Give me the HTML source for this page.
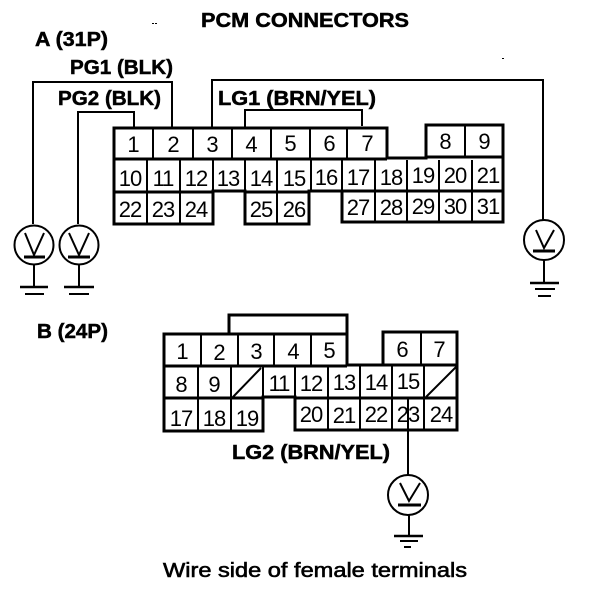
<!DOCTYPE html>
<html><head><meta charset="utf-8"><style>
html,body{margin:0;padding:0;background:#fff}
svg{display:block}
.n{font:22px "Liberation Sans",sans-serif;letter-spacing:-1px;text-anchor:middle;fill:#000}
.b{font:bold 20px "Liberation Sans",sans-serif;fill:#000;stroke:#000;stroke-width:.5}
</style></head><body>
<svg width="608" height="598" viewBox="0 0 608 598" xmlns="http://www.w3.org/2000/svg">
<text class="b" x="201" y="27" textLength="208" lengthAdjust="spacingAndGlyphs">PCM CONNECTORS</text>
<text class="b" x="35" y="46" textLength="73" lengthAdjust="spacingAndGlyphs">A (31P)</text>
<text class="b" x="70" y="74" textLength="103" lengthAdjust="spacingAndGlyphs">PG1 (BLK)</text>
<text class="b" x="58" y="105" textLength="103" lengthAdjust="spacingAndGlyphs">PG2 (BLK)</text>
<text class="b" x="218" y="105" textLength="158" lengthAdjust="spacingAndGlyphs">LG1 (BRN/YEL)</text>
<text class="b" x="37" y="338" textLength="71" lengthAdjust="spacingAndGlyphs">B (24P)</text>
<text class="b" x="232" y="459" textLength="158" lengthAdjust="spacingAndGlyphs">LG2 (BRN/YEL)</text>
<text class="b" x="163" y="577" textLength="304" lengthAdjust="spacingAndGlyphs" style="font-weight:normal;stroke-width:.6">Wire side of female terminals</text>

<g fill="#000"><rect x="152" y="23" width="2" height="1"/><rect x="155" y="23" width="2" height="1"/><rect x="502" y="58" width="2" height="1"/></g>

<g fill="none" stroke="#000" stroke-width="2">
<path d="M33 224V82H172V127"/>
<path d="M78 224V112H134V127"/>
<path d="M212 127V80H543V220"/>
<path d="M245 127V110H362V126"/>
</g>

<g fill="none" stroke="#000" stroke-width="3">
<path d="M114 128H387V158H426V125H503V222H342V191H309V224H245V191H213V224H114Z"/>
<path d="M114 159H387M426 157H503M114 192H213M245 192H309M342 191H503"/>
<path d="M229 334V315H347V365H383V332H457V430H295V397H263V431H164V334H347"/>
<path d="M164 366H347M347 365H457M164 398H263M295 398H457"/>
</g>
<g fill="none" stroke="#000" stroke-width="2">
<path d="M153 128V159M193 128V159M232 128V159M271 128V159M310 128V159M347 128V159M465 125V157"/>
<path d="M147 160V224M180 160V224M213 160V192M245 160V192M277 160V224M311 160V192M342 160V222M375 160V222M407 160V222M439 160V222M472 160V222"/>
<path d="M201 334V366M238 334V366M274 334V366M311 334V366M421 332V365"/>
<path d="M198 366V431M231 366V431M263 366V398M295 366V398M328 366V430M360 366V430M392 366V430M424 366V430"/>
<path d="M232 398L261 368M426 397L456 367"/>
</g>

<g>
<text class="n" x="133" y="152">1</text><text class="n" x="173" y="152">2</text><text class="n" x="212" y="152">3</text><text class="n" x="251" y="152">4</text><text class="n" x="290" y="151">5</text><text class="n" x="329" y="151">6</text><text class="n" x="367" y="151">7</text><text class="n" x="445" y="149">8</text><text class="n" x="484" y="149">9</text>
<text class="n" x="130" y="186">10</text><text class="n" x="163" y="186">11</text><text class="n" x="196" y="186">12</text><text class="n" x="228" y="186">13</text><text class="n" x="261" y="186">14</text><text class="n" x="294" y="186">15</text><text class="n" x="326" y="185">16</text><text class="n" x="358" y="185">17</text><text class="n" x="391" y="185">18</text><text class="n" x="423" y="183">19</text><text class="n" x="455" y="183">20</text><text class="n" x="488" y="183">21</text>
<text class="n" x="130" y="217">22</text><text class="n" x="163" y="217">23</text><text class="n" x="196" y="217">24</text><text class="n" x="261" y="217">25</text><text class="n" x="294" y="217">26</text><text class="n" x="358" y="215">27</text><text class="n" x="391" y="215">28</text><text class="n" x="423" y="214">29</text><text class="n" x="455" y="214">30</text><text class="n" x="488" y="214">31</text>

<text class="n" x="182" y="359">1</text><text class="n" x="219" y="360">2</text><text class="n" x="256" y="359">3</text><text class="n" x="293" y="359">4</text><text class="n" x="329" y="358">5</text><text class="n" x="402" y="357">6</text><text class="n" x="439" y="357">7</text>
<text class="n" x="181" y="392">8</text><text class="n" x="214" y="392">9</text><text class="n" x="279" y="391">11</text><text class="n" x="311" y="391">12</text><text class="n" x="344" y="390">13</text><text class="n" x="376" y="390">14</text><text class="n" x="408" y="389">15</text>
<text class="n" x="181" y="426">17</text><text class="n" x="214" y="426">18</text><text class="n" x="247" y="426">19</text><text class="n" x="311" y="422">20</text><text class="n" x="344" y="423">21</text><text class="n" x="376" y="422">22</text><text class="n" x="408" y="422">23</text><text class="n" x="441" y="422">24</text>
</g>

<g fill="none" stroke="#000" stroke-width="2">
<path d="M408 397V476"/>
<circle cx="34" cy="245" r="19.5"/>
<path d="M25 233L34 255L44 233"/><path d="M24 257H45" stroke-width="3"/>
<path d="M34 265V286"/><path d="M20 287H48" stroke-width="2.5"/><path d="M25 294H44"/>
<circle cx="79" cy="245" r="19.5"/>
<path d="M69 233L79 255L89 233"/><path d="M68 257H90" stroke-width="3"/>
<path d="M79 265V286"/><path d="M64 287H94" stroke-width="2.5"/><path d="M69 294H89"/>
<circle cx="544" cy="240" r="20"/>
<path d="M536 230L544 248L554 230"/><path d="M533 251H555" stroke-width="3"/>
<path d="M544 260V283"/><path d="M530 283H559" stroke-width="2.5"/><path d="M535 289H555"/><path d="M538 296H551"/>
<circle cx="408" cy="495" r="20"/>
<path d="M400 483L409 501L420 483"/><path d="M398 505H421" stroke-width="3"/>
<path d="M409 514V536"/><path d="M394 536H423" stroke-width="2.5"/><path d="M400 541H418"/><path d="M404 547H411"/>
</g>
</svg>
</body></html>
